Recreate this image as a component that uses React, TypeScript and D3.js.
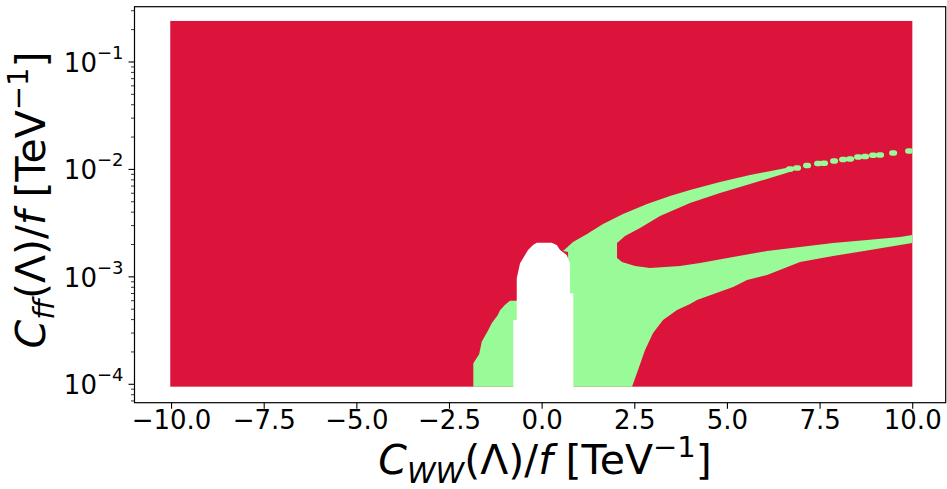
import React from "react";
import * as d3 from "d3";

// frame of the axes, in px
const W = 947;
const H = 489;
const box = { left: 134.5, right: 945.7, top: 6.7, bottom: 402.7 };

// axis limits (linear x, log y)
const xLimits = [-11.0, 10.89];
const yLimits = [6.74e-5, 0.327];

const xTicks = [-10, -7.5, -5, -2.5, 0, 2.5, 5, 7.5, 10];
const xTickLabels = ["−10.0", "−7.5", "−5.0", "−2.5", "0.0", "2.5", "5.0", "7.5", "10.0"];
const yTickExponents = [-4, -3, -2, -1];

// outer extent of the scanned grid (crimson)
const scanX = [-10.035, 9.99];
const scanY = [9.5e-5, 0.241];

// allowed region left of the gap (palegreen)
const allowedLeft: [number, number][] = [
  [-1.857, 9.5e-5], [-1.857, 1.57e-4], [-1.7, 1.9e-4], [-1.63, 2.49e-4],
  [-1.452, 3.2e-4], [-1.36, 3.7e-4], [-1.2, 4.4e-4], [-1.136, 4.9e-4],
  [-1.0, 5.5e-4], [-0.866, 6.0e-4], [-0.5, 6.0e-4], [-0.5, 9.5e-5],
];

// allowed region right of the gap: upper branch, hole, lower branch
const allowedRight: [number, number][] = [
  [0.7, 9.5e-5], [0.7, 1.7e-3], [0.564, 1.74e-3], [0.834, 2.111e-3],
  [1.212, 2.506e-3], [1.643, 3.105e-3], [2.183, 3.846e-3], [2.831, 4.767e-3],
  [3.451, 5.657e-3], [3.991, 6.436e-3], [4.8, 7.638e-3], [5.61, 8.874e-3],
  [6.582, 1.031e-2], [6.744, 1.05e-2], [6.744, 9.6e-3], [5.61, 7.317e-3],
  [4.8, 6.03e-3], [3.991, 4.87e-3], [3.182, 3.685e-3], [2.642, 2.85e-3],
  [2.237, 2.4e-3], [2.021, 2.066e-3], [2.021, 1.499e-3], [2.156, 1.375e-3],
  [2.507, 1.262e-3], [2.912, 1.209e-3], [3.721, 1.262e-3], [4.261, 1.346e-3],
  [5.152, 1.531e-3], [6.069, 1.74e-3], [6.96, 1.897e-3], [7.851, 2.066e-3],
  [8.768, 2.203e-3], [9.659, 2.35e-3], [9.99, 2.452e-3], [9.99, 2.066e-3],
  [9.659, 1.979e-3], [8.768, 1.759e-3], [7.851, 1.564e-3], [6.96, 1.375e-3],
  [6.069, 1.041e-3], [5.53, 9.35e-4], [5.152, 8.04e-4], [4.18, 6.09e-4],
  [3.991, 5.59e-4], [3.64, 4.914e-4], [3.262, 3.966e-4], [2.993, 3.002e-4],
  [2.777, 2.085e-4], [2.588, 1.358e-4], [2.426, 9.5e-5],
];

// points with no result (left blank)
const emptyDome: [number, number][] = [
  [-0.777, 6.74e-5], [-0.777, 3.97e-4], [-0.685, 3.97e-4], [-0.685, 9.69e-4],
  [-0.596, 1.337e-3], [-0.515, 1.489e-3], [-0.381, 1.778e-3], [-0.246, 1.979e-3],
  [-0.146, 2.08e-3], [0.259, 2.08e-3], [0.394, 1.979e-3], [0.483, 1.778e-3],
  [0.664, 1.597e-3], [0.753, 1.337e-3], [0.753, 7.03e-4], [0.842, 7.03e-4],
  [0.842, 6.74e-5],
];

// isolated allowed points along the thin upper branch
const thinBranch: [number, number][] = [
  [6.69, 1.009e-2], [6.879, 1.031e-2], [7.149, 1.088e-2], [7.446, 1.135e-2],
  [7.608, 1.14e-2], [7.878, 1.198e-2], [8.121, 1.237e-2], [8.31, 1.25e-2],
  [8.526, 1.305e-2], [8.715, 1.32e-2], [8.931, 1.353e-2], [9.12, 1.36e-2],
  [9.471, 1.422e-2], [9.903, 1.484e-2],
];

const RED = "#dc143c";
const GREEN = "#98fb98";
const FONT = "DejaVu Sans";

function AxisTitle({ sub }: { sub: string }) {
  return (
    <>
      <tspan fontStyle="italic">C</tspan>
      <tspan fontStyle="italic" fontSize={29} dy={9}>{sub}</tspan>
      <tspan dy={-9}>(Λ)/</tspan>
      <tspan fontStyle="italic">f</tspan>
      <tspan> [TeV</tspan>
      <tspan fontSize={29} dy={-17}>−1</tspan>
      <tspan dy={17}>]</tspan>
    </>
  );
}

export default function App() {
  const x = d3.scaleLinear().domain(xLimits).range([box.left, box.right]);
  const y = d3.scaleLog().domain(yLimits).range([box.bottom, box.top]);
  const poly = d3
    .line<[number, number]>()
    .x((d) => x(d[0]))
    .y((d) => y(d[1]));

  const minorTicks = y.ticks().filter((t) => {
    const e = Math.log10(t);
    return Math.abs(e - Math.round(e)) > 1e-6;
  });

  return (
    <svg
      width={W}
      height={H}
      style={{ position: "absolute", left: 0, top: 0, background: "#fff" }}
      fontFamily={FONT}
    >
      <rect
        x={x(scanX[0])}
        y={y(scanY[1])}
        width={x(scanX[1]) - x(scanX[0])}
        height={y(scanY[0]) - y(scanY[1])}
        fill={RED}
      />
      <path d={poly(allowedRight) + "Z"} fill={GREEN} />
      <path d={poly(allowedLeft) + "Z"} fill={GREEN} />
      <path d={poly(emptyDome) + "Z"} fill="#fff" />
      {thinBranch.map((d, i) => (
        <rect
          key={i}
          x={x(d[0]) - 4}
          y={y(d[1]) - 2.7}
          width={8}
          height={5.4}
          rx={2.7}
          fill={GREEN}
        />
      ))}

      <rect
        x={box.left}
        y={box.top}
        width={box.right - box.left}
        height={box.bottom - box.top}
        fill="none"
        stroke="#000"
        strokeWidth={1.2}
      />

      {/* x axis */}
      {xTicks.map((t, i) => (
        <g key={t} transform={`translate(${x(t)},${box.bottom})`}>
          <line y2={6} stroke="#000" strokeWidth={1.1} />
          <text y={26} textAnchor="middle" fontSize={26}>
            {xTickLabels[i]}
          </text>
        </g>
      ))}

      {/* y axis */}
      {yTickExponents.map((e) => (
        <g key={e} transform={`translate(${box.left},${y(Math.pow(10, e))})`}>
          <line x2={-6} stroke="#000" strokeWidth={1.1} />
          <text x={-11} y={10} textAnchor="end" fontSize={26}>
            10
            <tspan fontSize={18} dy={-13}>{`−${-e}`}</tspan>
          </text>
        </g>
      ))}
      {minorTicks.map((t) => (
        <line
          key={t}
          x1={box.left}
          x2={box.left - 3.5}
          y1={y(t)}
          y2={y(t)}
          stroke="#000"
          strokeWidth={0.8}
        />
      ))}

      {/* axis titles */}
      <text x={545} y={474} textAnchor="middle" fontSize={41}>
        <AxisTitle sub="WW" />
      </text>
      <text transform="translate(45,200) rotate(-90)" textAnchor="middle" fontSize={41}>
        <AxisTitle sub="ff" />
      </text>
    </svg>
  );
}
